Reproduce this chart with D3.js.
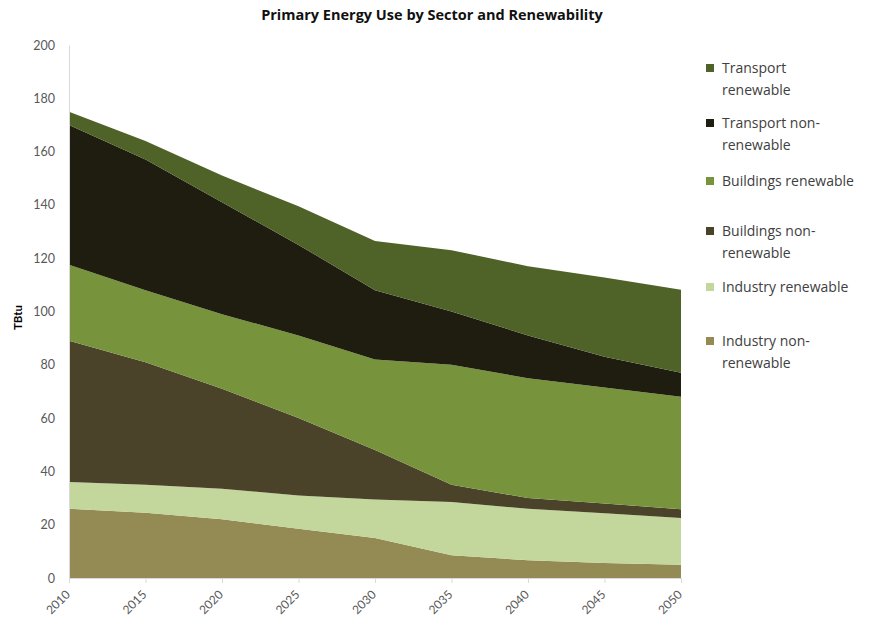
<!DOCTYPE html>
<html>
<head>
<meta charset="utf-8">
<script src="https://cdn.jsdelivr.net/npm/d3@7"></script>
<style>
  html, body { margin: 0; padding: 0; background: #fff; }
  svg { display: block; font-family: Lato, "Open Sans", sans-serif; }
</style>
</head>
<body>
<svg id="chart" width="871" height="623"></svg>
<script>
// ---- Data ----
const years = [2010, 2015, 2020, 2025, 2030, 2035, 2040, 2045, 2050];
const industryNonRenewable  = [26, 24.5, 22, 18.5, 15, 8.5, 6.7, 5.6, 5];
const industryRenewable     = [10, 10.5, 11.5, 12.5, 14.5, 20, 19.3, 18.7, 17.5];
const buildingsNonRenewable = [53, 46, 37.5, 29, 18.5, 6.5, 4, 3.7, 3.3];
const buildingsRenewable    = [28.5, 27, 28, 31, 34, 45, 45, 43.5, 42.2];
const transportNonRenewable = [52.5, 49, 42, 34, 26, 20, 16, 11.5, 9];
const transportRenewable    = [5, 7, 10, 14.5, 18.5, 23, 26, 29.8, 31.2];
const yTicks = [0, 20, 40, 60, 80, 100, 120, 140, 160, 180, 200];

const seriesKeys = ["indNR", "indR", "bldNR", "bldR", "trNR", "trR"];
const colors = {
  indNR: "#948a54",
  indR: "#c3d69b",
  bldNR: "#4a432a",
  bldR: "#77933c",
  trNR: "#1f1c10",
  trR: "#4f6228"
};

const table = years.map((yr, i) => ({
  year: yr,
  indNR: industryNonRenewable[i],
  indR: industryRenewable[i],
  bldNR: buildingsNonRenewable[i],
  bldR: buildingsRenewable[i],
  trNR: transportNonRenewable[i],
  trR: transportRenewable[i]
}));

// ---- Layout ----
const svg = d3.select("#chart");
const mLeft = 69, mRight = 681, mTop = 45, mBottom = 578;

const x = d3.scalePoint().domain(years).range([mLeft, mRight]);
const y = d3.scaleLinear().domain([0, 200]).range([mBottom, mTop]);

const stacked = d3.stack().keys(seriesKeys)(table);

const area = d3.area()
  .x(d => x(d.data.year))
  .y0(d => y(d[0]))
  .y1(d => y(d[1]));

svg.append("g")
  .selectAll("path")
  .data(stacked)
  .join("path")
  .attr("d", area)
  .attr("fill", d => colors[d.key]);

// Y axis
const yAxis = svg.append("g")
  .attr("transform", `translate(${mLeft},0)`)
  .call(d3.axisLeft(y).tickValues(yTicks).tickSize(0).tickPadding(14));
yAxis.select(".domain").attr("stroke", "#d9d9d9");
yAxis.selectAll("text")
  .attr("fill", "#595959")
  .style("font-size", "12.5px")
  .style("font-family", "Lato, 'Open Sans', sans-serif");

// X axis
const xAxis = svg.append("g")
  .attr("transform", `translate(0,${mBottom})`)
  .call(d3.axisBottom(x).tickSize(5).tickPadding(4));
xAxis.select(".domain").attr("stroke", "#d9d9d9");
xAxis.selectAll(".tick line").attr("stroke", "#d9d9d9");
xAxis.selectAll("text")
  .attr("fill", "#595959")
  .style("font-size", "12px")
  .style("font-family", "Lato, 'Open Sans', sans-serif")
  .attr("text-anchor", "end")
  .attr("dy", "0.35em")
  .attr("transform", "translate(-8,8) rotate(-45)");

// Axis title
svg.append("text")
  .attr("transform", `translate(22,${(mTop + mBottom) / 2 + 6}) rotate(-90)`)
  .attr("text-anchor", "middle")
  .style("font-size", "11.5px")
  .style("font-weight", "bold")
  .attr("fill", "#000")
  .text("TBtu");

// Title
svg.append("text")
  .attr("x", 432)
  .attr("y", 20)
  .attr("text-anchor", "middle")
  .style("font-family", "'Open Sans', Lato, sans-serif")
  .style("font-size", "14.5px")
  .style("font-weight", "bold")
  .attr("fill", "#111")
  .text("Primary Energy Use by Sector and Renewability");

// Legend
const legendItems = [
  { key: "trR", lines: ["Transport", "renewable"], y: 68 },
  { key: "trNR", lines: ["Transport non-", "renewable"], y: 123 },
  { key: "bldR", lines: ["Buildings renewable"], y: 181 },
  { key: "bldNR", lines: ["Buildings non-", "renewable"], y: 231 },
  { key: "indR", lines: ["Industry renewable"], y: 287 },
  { key: "indNR", lines: ["Industry non-", "renewable"], y: 341 }
];
const lg = svg.append("g");
legendItems.forEach(it => {
  lg.append("rect")
    .attr("x", 706).attr("y", it.y - 4)
    .attr("width", 8).attr("height", 8)
    .attr("fill", colors[it.key]);
  const t = lg.append("text")
    .attr("x", 722).attr("y", it.y + 5)
    .style("font-family", "'Open Sans', Lato, sans-serif")
    .style("font-size", "14px")
    .attr("fill", "#404040");
  it.lines.forEach((ln, j) => {
    t.append("tspan").attr("x", 722).attr("dy", j === 0 ? 0 : 22).text(ln);
  });
});
</script>
</body>
</html>
